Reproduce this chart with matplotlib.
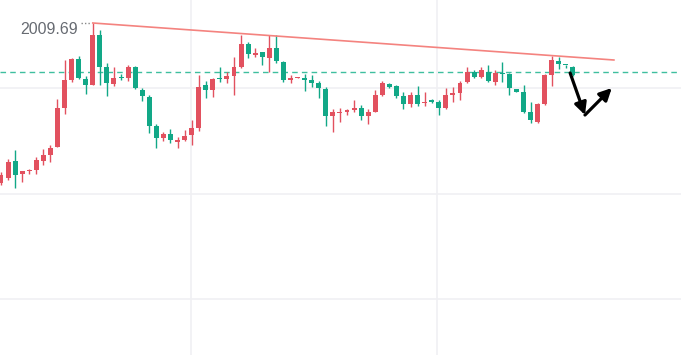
import matplotlib
matplotlib.use('Agg')
import matplotlib.pyplot as plt
from matplotlib.patches import FancyArrowPatch
import numpy as np

# K线数据 (红涨绿跌)
opens = [1969.69, 1970.94, 1975.19, 1971.94, 1972.69, 1972.94, 1975.19, 1976.69, 1978.69, 1988.44,
         1995.44, 2000.69, 1995.69, 1994.19, 2006.69, 1998.69, 1994.44, 1996.19, 1995.94, 1998.69,
         1992.94, 1991.19, 1983.94, 1980.94, 1981.94, 1979.94, 1980.44, 1981.69, 1983.44, 1994.19,
         1992.94, 1995.94, 1995.69, 1996.44, 1998.69, 2004.44, 2001.69, 2002.44, 2000.94, 2003.44,
         1999.94, 1995.44, 1995.94, 1995.94, 1995.44, 1994.69, 1993.19, 1986.44, 1987.19, 1987.44,
         1987.94, 1988.44, 1986.44, 1987.44, 1991.69, 1994.44, 1993.94, 1991.44, 1989.44, 1991.69,
         1989.69, 1990.44, 1989.94, 1988.44, 1991.69, 1992.19, 1994.94, 1997.44, 1996.19, 1997.44,
         1994.94, 1997.19, 1996.94, 1993.19, 1992.44, 1987.44, 1984.94, 1989.44, 1996.69, 2000.19,
         1999.19, 1998.69]
highs = [1972.44, 1975.69, 1977.94, 1972.69, 1973.19, 1976.19, 1978.19, 1979.19, 1990.69, 2000.44,
         2000.94, 2001.44, 1996.44, 2009.69, 2007.94, 1999.69, 1998.69, 1996.94, 1999.19, 1998.94,
         1993.44, 1991.69, 1984.44, 1982.44, 1983.19, 1981.19, 1982.94, 1985.44, 1996.69, 1995.19,
         1995.94, 1998.69, 1997.44, 2001.19, 2006.69, 2004.94, 2003.44, 2002.44, 2006.69, 2006.69,
         2000.19, 1996.69, 1996.19, 1996.94, 1996.69, 1995.19, 1993.69, 1988.19, 1988.44, 1988.19,
         1990.44, 1989.19, 1988.19, 1992.94, 1995.19, 1994.69, 1994.19, 1992.44, 1992.44, 1993.94,
         1992.44, 1990.69, 1990.44, 1993.44, 1993.69, 1995.19, 1998.69, 1997.94, 1998.69, 1999.19,
         1997.94, 1999.94, 1997.19, 1993.19, 1994.19, 1989.94, 1989.69, 1996.94, 2001.44, 2001.19,
         1999.19, 1998.94]
lows = [1969.19, 1970.44, 1968.44, 1969.94, 1971.94, 1971.94, 1974.19, 1974.94, 1978.69, 1986.94,
        1994.94, 1995.69, 1991.94, 1994.19, 1994.19, 1991.44, 1993.94, 1995.44, 1995.19, 1993.19,
        1990.19, 1982.19, 1978.44, 1980.19, 1979.69, 1978.44, 1980.19, 1979.19, 1982.69, 1990.94,
        1991.19, 1994.94, 1994.69, 1991.69, 1998.44, 2000.94, 2001.19, 1999.19, 1997.44, 1999.69,
        1994.94, 1994.69, 1995.94, 1992.69, 1993.69, 1990.94, 1983.94, 1982.44, 1984.94, 1986.69,
        1987.44, 1985.44, 1984.44, 1987.44, 1991.44, 1993.44, 1990.94, 1988.19, 1988.69, 1988.94,
        1988.94, 1989.69, 1986.69, 1988.19, 1989.94, 1990.44, 1994.69, 1995.94, 1995.94, 1994.94,
        1994.19, 1994.94, 1991.69, 1992.44, 1987.19, 1984.69, 1984.69, 1989.19, 1993.94, 1998.19,
        1998.44, 1996.44]
closes = [1971.69, 1974.94, 1971.69, 1972.69, 1972.94, 1975.44, 1976.69, 1978.44, 1988.44, 1995.44,
          2000.69, 1995.94, 1994.19, 2006.69, 1998.69, 1994.69, 1995.94, 1995.94, 1998.69, 1993.44,
          1991.44, 1983.94, 1980.94, 1981.94, 1980.44, 1980.44, 1981.44, 1983.44, 1993.69, 1992.94,
          1995.69, 1995.69, 1996.44, 1998.69, 2004.44, 2001.94, 2002.19, 2001.19, 2003.44, 2000.19,
          1995.44, 1995.94, 1996.19, 1995.44, 1994.69, 1993.44, 1986.44, 1987.44, 1987.44, 1987.94,
          1988.44, 1986.44, 1987.44, 1991.69, 1994.69, 1993.69, 1991.44, 1989.44, 1991.69, 1989.44,
          1989.94, 1989.94, 1988.44, 1991.69, 1992.19, 1994.69, 1997.44, 1996.19, 1997.94, 1995.19,
          1997.19, 1996.94, 1993.44, 1992.44, 1987.44, 1985.44, 1989.44, 1996.69, 2000.44, 1999.44,
          1999.07, 1996.69]

# 压力线、参考线、网格
trend_x = [13, 86.8]
trend_y = [2009.69, 2000.44]
ref_level = 1997.44
grid_y = [1993.44, 1966.94, 1940.69]
grid_x = [26.9, 61.8]
high_label = '2009.69'
# 手绘箭头 (先下后上)
arrow_x = [80.6, 82.7, 86.5]
arrow_y = [1997.19, 1986.69, 1993.44]

UP = '#e2515f'
DOWN = '#12a887'

fig = plt.figure(figsize=(6.81, 3.55), dpi=100)
ax = fig.add_axes([0, 0, 1, 1])
ax.set_xlim(-0.14, 96.3)
ax.set_ylim(1926.69, 2015.44)
ax.axis('off')

for g in grid_y:
    ax.axhline(g, color='#f0f0f3', lw=1.2, zorder=0)
for g in grid_x:
    ax.axvline(g, color='#f0f0f3', lw=1.2, zorder=0)

o = np.array(opens); h = np.array(highs); l = np.array(lows); c = np.array(closes)
idx = np.arange(len(o))
cols = [UP if cc >= oo else DOWN for oo, cc in zip(o, c)]
ax.vlines(idx, l, h, colors=cols, lw=1, zorder=2)
body_h = np.maximum(np.abs(c - o), 0.3)
ax.bar(idx, body_h, bottom=np.minimum(o, c), width=0.7, color=cols, lw=0, zorder=3)

ax.axhline(ref_level, color='#3fbf9f', lw=1, ls=(0, (4, 3)), zorder=1)
ax.plot(trend_x, trend_y, color='#f4837f', lw=1.2, zorder=4)

# 最高价标注
ax.plot([11.3, 12.6], [highs[13], highs[13]], color='#888888', lw=1, ls=(0, (1, 1.5)))
ax.text(10.95, 2008.0, high_label, ha='right', va='center', fontsize=11.5,
        family=['Liberation Sans', 'DejaVu Sans'], color='#676b72')

for i in range(2):
    arr = FancyArrowPatch((arrow_x[i], arrow_y[i]), (arrow_x[i + 1], arrow_y[i + 1]),
                          arrowstyle='-|>', mutation_scale=18, lw=2.3, color='black', zorder=6,
                          shrinkA=0, shrinkB=0)
    ax.add_patch(arr)

fig.savefig('out.png', dpi=100)
